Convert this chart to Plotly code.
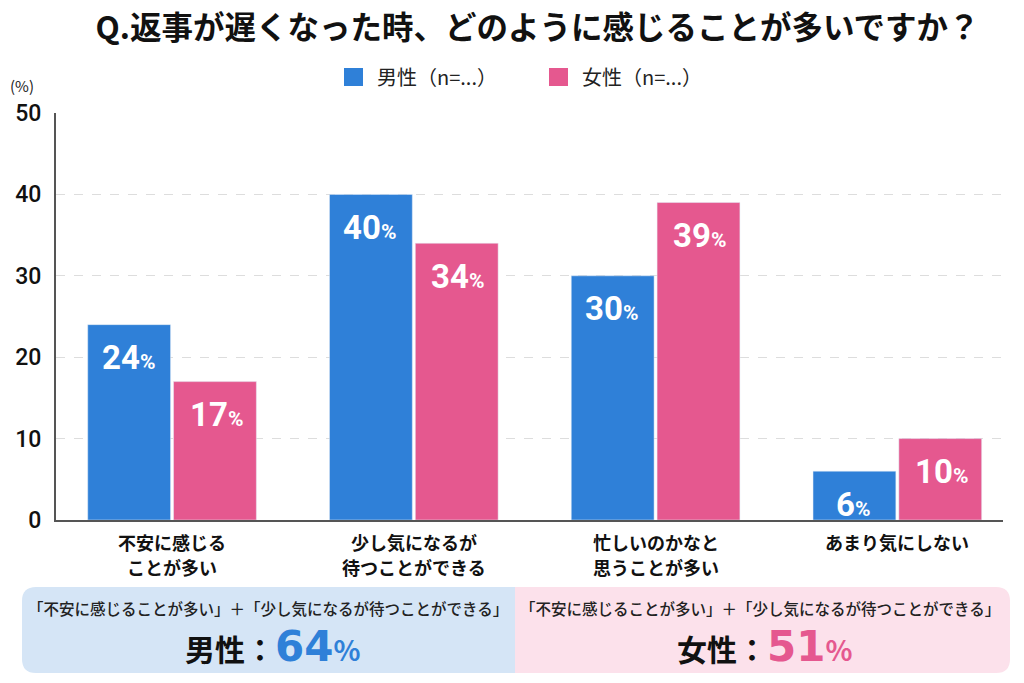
import plotly.graph_objects as go

categories = [["不安に感じる", "ことが多い"], ["少し気になるが", "待つことができる"],
              ["忙しいのかなと", "思うことが多い"], ["あまり気にしない"]]
male_values = [24, 40, 30, 6]
female_values = [17, 34, 39, 10]
y_ticks = [0, 10, 20, 30, 40, 50]
male_name = "男性（n=...）"
female_name = "女性（n=...）"
summary_caption = "「不安に感じることが多い」＋「少し気になるが待つことができる」"
male_total = 64
female_total = 51

BLUE = "#2F80D8"
PINK = "#E5588F"
FONT = "Roboto, 'Noto Sans CJK JP', sans-serif"
JFONT = "'Noto Sans CJK JP', sans-serif"

W, H = 1024, 683
L, R, T, B = 56, 21, 113, 163
PW, PH = W - L - R, H - T - B

def px(x):
    return (x - L) / PW

def py(y):
    return (H - B - y) / PH

fig = go.Figure()
fig.add_trace(go.Bar(x=list(range(4)), y=male_values, name=male_name, marker_color=BLUE, showlegend=False))
fig.add_trace(go.Bar(x=list(range(4)), y=female_values, name=female_name, marker_color=PINK, showlegend=False))

annotations = []
off = 0.182
for i, (m, f) in enumerate(zip(male_values, female_values)):
    for v, dx in ((m, -off), (f, off)):
        annotations.append(dict(
            x=i + dx, y=v, xref="x", yref="y", yshift=-33, showarrow=False,
            text=f"{v}<span style='font-size:21px'>%</span>",
            font=dict(family=FONT, size=33, color="white", weight=700),
            xanchor="center", yanchor="middle"))

# category labels (two lines each)
for i, lines in enumerate(categories):
    for j, line in enumerate(lines):
        annotations.append(dict(
            x=i, y=py(542 + 25 * j), xref="x", yref="paper", showarrow=False,
            text=line, font=dict(family=JFONT, size=18, color="#111", weight=700),
            xanchor="center", yanchor="middle"))

# (%) label
annotations.append(dict(x=px(22), y=py(86), xref="paper", yref="paper", showarrow=False,
                        text="(%)", font=dict(family=JFONT, size=15, color="#222"),
                        xanchor="center", yanchor="middle"))

shapes = []
# manual legend
for sx, tx, name, col in ((344, 375, male_name, BLUE), (549, 580, female_name, PINK)):
    shapes.append(dict(type="rect", xref="paper", yref="paper",
                       x0=px(sx), x1=px(sx + 19), y0=py(68), y1=py(86),
                       fillcolor=col, line=dict(width=0)))
    annotations.append(dict(x=px(tx), y=py(77), xref="paper", yref="paper", showarrow=False,
                            text=name, font=dict(family=JFONT, size=20, color="#222"),
                            xanchor="left", yanchor="middle"))

# bottom boxes text
for cx, label, total, col in ((272, "男性", male_total, BLUE), (764, "女性", female_total, PINK)):
    annotations.append(dict(x=px(cx - 4), y=py(608), xref="paper", yref="paper", showarrow=False,
                            text=summary_caption,
                            font=dict(family=JFONT, size=15.5, color="#222", weight=500),
                            xanchor="center", yanchor="middle"))
    annotations.append(dict(x=px(cx), y=py(646), xref="paper", yref="paper", showarrow=False,
                            text=(f"{label}：<span style=\"color:{col};font-size:42px;font-family:'DejaVu Sans'\">{total}</span>"
                                  f"<span style='color:{col};font-size:28px'>%</span>"),
                            font=dict(family=JFONT, size=30, color="#111", weight=700),
                            xanchor="center", yanchor="middle"))

def rounded(x0, y0, x1, y1, r, left=True, right=True):
    rx = r / PW
    ry = r / PH
    X0, X1 = px(x0), px(x1)
    Yt, Yb = py(y0), py(y1)
    p = []
    if left:
        p.append(f"M {X0+rx},{Yt}")
    else:
        p.append(f"M {X0},{Yt}")
    if right:
        p.append(f"L {X1-rx},{Yt} Q {X1},{Yt} {X1},{Yt-ry} L {X1},{Yb+ry} Q {X1},{Yb} {X1-rx},{Yb}")
    else:
        p.append(f"L {X1},{Yt} L {X1},{Yb}")
    if left:
        p.append(f"L {X0+rx},{Yb} Q {X0},{Yb} {X0},{Yb+ry} L {X0},{Yt-ry} Q {X0},{Yt} {X0+rx},{Yt} Z")
    else:
        p.append(f"L {X0},{Yb} Z")
    return " ".join(p)

shapes += [
    dict(type="path", xref="paper", yref="paper", path=rounded(22, 587, 515, 673, 14, True, False),
         fillcolor="#D5E5F6", line=dict(width=0), layer="below"),
    dict(type="path", xref="paper", yref="paper", path=rounded(515, 587, 1010, 673, 14, False, True),
         fillcolor="#FCE1EB", line=dict(width=0), layer="below"),
]

fig.update_layout(
    width=W, height=H,
    margin=dict(l=L, r=R, t=T, b=B),
    paper_bgcolor="white", plot_bgcolor="white",
    barmode="group", bargap=0.29, bargroupgap=0.035,
    showlegend=False,
    title=dict(text="Q.返事が遅くなった時、どのように感じることが多いですか？",
               x=0.525, xanchor="center", y=1 - 28 / H, yanchor="middle",
               font=dict(family=JFONT, size=31.5, color="#111", weight=700)),
    font=dict(family=JFONT),
    xaxis=dict(range=[-0.48, 3.437], tickmode="array", tickvals=list(range(4)),
               ticktext=["" for _ in categories],
               showline=True, linecolor="#555", linewidth=2, showgrid=False),
    yaxis=dict(range=[0, 50], tickvals=y_ticks, showline=True, linecolor="#555", linewidth=2,
               showgrid=True, gridcolor="#DDDDDD", griddash="dash", gridwidth=1,
               zeroline=False,
               tickfont=dict(family=FONT, size=23, color="#111", weight=500),
               ticks="outside", ticklen=8, tickcolor="rgba(0,0,0,0)"),
    annotations=annotations,
    shapes=shapes,
)

fig.write_html("out.html")
